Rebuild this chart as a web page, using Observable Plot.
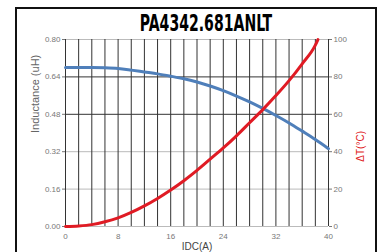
<!DOCTYPE html>
<html>
<head>
<meta charset="utf-8">
<script src="https://cdn.jsdelivr.net/npm/d3@7"></script>
<script src="https://cdn.jsdelivr.net/npm/@observablehq/plot@0.6"></script>
<style>
  html, body { margin: 0; padding: 0; background: #fff; overflow: hidden; }
  #wrap { position: relative; width: 383px; height: 252px; }
  #frame { position: absolute; left: 15px; top: 7px; width: 358px; height: 270px; border: 2px solid #111; box-sizing: content-box; }
  #title { position: absolute; left: 0; width: 412px; top: 10px; text-align: center;
           font-family: "Liberation Sans Narrow", "DejaVu Sans Condensed", sans-serif; font-weight: bold;
           font-size: 23px; line-height: 26px; color: #000; transform: scaleX(0.68); transform-origin: 206px 0; }
  #chart { position: absolute; left: 0; top: 0; }
</style>
</head>
<body>
<div id="wrap">
  <div id="frame"></div>
  <div id="chart"></div>
  <div id="title">PA4342.681ANLT</div>
</div>
<script>
const title = "PA4342.681ANLT";
const xLabel = "IDC(A)";
const yLabelLeft = "Inductance (uH)";
const yLabelRight = "ΔT(°C)";

const currentA = [0, 2, 4, 6, 8, 10, 12, 14, 16, 18, 20, 22, 24, 26, 28, 30, 32, 34, 36, 38, 40];
const inductanceUH = [0.68, 0.68, 0.68, 0.679, 0.676, 0.669, 0.661, 0.653, 0.643, 0.632, 0.618, 0.601, 0.581, 0.558, 0.533, 0.505, 0.475, 0.443, 0.408, 0.372, 0.333];

const tempCurrentA = [0, 2, 4, 6, 8, 10, 12, 14, 16, 18, 20, 22, 24, 26, 28, 30, 32, 34, 36, 38, 38.4];
const deltaT = [0, 0.3, 1, 2.5, 4.6, 7.5, 11, 15, 19.5, 24.5, 30, 36, 42, 48.5, 55.5, 62.5, 70, 78, 87, 97, 100];

const xTicks = [0, 8, 16, 24, 32, 40];
const xGrid = d3.range(0, 41, 2);
const leftTicks = [0, 0.16, 0.32, 0.48, 0.64, 0.80];
const rightTicks = [0, 20, 40, 60, 80, 100];
const darkH = [0.48, 0.64];
const lightH = [0.16, 0.32];

const L = currentA.map((x, i) => ({x, y: inductanceUH[i]}));
const T = tempCurrentA.map((x, i) => ({x, t: deltaT[i]}));
const tScale = 0.8 / 100;

const chart = Plot.plot({
  width: 383,
  height: 252,
  marginLeft: 65,
  marginRight: 55,
  marginTop: 39,
  marginBottom: 26,
  style: {background: "transparent", fontFamily: "'Liberation Sans', Arial, sans-serif"},
  x: {domain: [0, 40]},
  y: {domain: [0, 0.8]},
  marks: [
    Plot.ruleY(lightH, {stroke: "#bbb", strokeWidth: 1}),
    Plot.ruleY(darkH, {stroke: "#333", strokeWidth: 1}),
    Plot.ruleY([0, 0.8], {stroke: "#bbb", strokeWidth: 1}),
    Plot.ruleX(xGrid, {stroke: "#333", strokeWidth: 1}),
    Plot.axisY({anchor: "left", ticks: leftTicks, tickFormat: d3.format(".2f"), tickSize: 3, tickPadding: 2, fontSize: 8, color: "#777", label: null}),
    Plot.axisY({anchor: "right", ticks: leftTicks, tickFormat: d => String(Math.round(d / tScale)), tickSize: 3, tickPadding: 2, fontSize: 8, color: "#777", label: null}),
    Plot.axisX({ticks: xTicks, tickSize: 0, tickPadding: 7, fontSize: 8, color: "#777", label: null}),
    Plot.line(L, {x: "x", y: "y", stroke: "#4f7fba", strokeWidth: 3, curve: "monotone-x"}),
    Plot.line(T, {x: "x", y: d => d.t * tScale, stroke: "#e01b24", strokeWidth: 3, curve: "monotone-x"}),
    Plot.text([xLabel], {frameAnchor: "bottom", dy: 16, lineAnchor: "top", fontSize: 10, fill: "#444"}),
    Plot.text([yLabelLeft], {frameAnchor: "left", dx: -30, rotate: -90, fontSize: 11, fill: "#666"}),
    Plot.text([yLabelRight], {frameAnchor: "right", dx: 32, dy: -2, rotate: -90, fontSize: 10, fill: "#e01b24"})
  ]
});
document.getElementById("chart").appendChild(chart);
</script>
</body>
</html>
